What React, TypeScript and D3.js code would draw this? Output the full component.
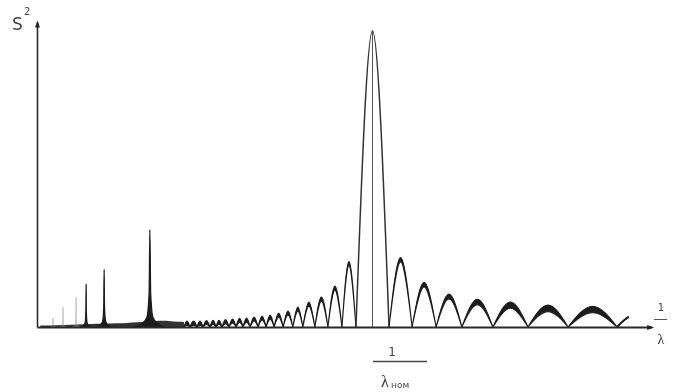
import { useEffect, useRef } from 'react';
import * as d3 from 'd3';

// Spectrum. x is in units of 1/λном (the main peak sits at 1),
// y is relative to the height of the main peak.
const lobeZeros = [
  0.44, 0.458, 0.479, 0.497, 0.518, 0.536, 0.554, 0.575, 0.596, 0.617, 0.638, 0.662, 0.686, 0.71,
  0.737, 0.766, 0.796, 0.832, 0.871, 0.913, 0.955, 1.054, 1.123, 1.195, 1.272, 1.365, 1.47, 1.59,
  1.737,
];
const lobePeaks = [
  0.02, 0.02, 0.02, 0.022, 0.023, 0.023, 0.025, 0.027, 0.029, 0.03, 0.034, 0.037, 0.04, 0.047,
  0.054, 0.067, 0.084, 0.101, 0.138, 0.221, 1.0, 0.235, 0.151, 0.111, 0.094, 0.084, 0.074, 0.07,
];
const mainLobe = 20;

// last half lobe at the right edge
const tailX = [1.737, 1.755, 1.772];
const tailY = [0, 0.02, 0.035];

// narrow higher-order peaks on the left
const spikeX = [0.048, 0.078, 0.117, 0.147, 0.201, 0.338];
const spikeH = [0.03, 0.067, 0.1, 0.144, 0.195, 0.329];
const spikeW = [0.008, 0.01, 0.012, 0.014, 0.022, 0.045];

// dark band along the baseline (unresolved fine lobes)
const floorX = [0.01, 0.08, 0.16, 0.24, 0.3, 0.36, 0.4, 0.44];
const floorH = [0.005, 0.007, 0.01, 0.012, 0.016, 0.022, 0.02, 0.017];

const W = 676;
const H = 392;
const ink = '#1c1c1c';

const x = d3.scaleLinear().domain([0, 1.84]).range([37, 37 + 1.84 * 334]);
const y = d3.scaleLinear().domain([0, 1.03]).range([327, 327 - 1.03 * 296]);

type P = { x: number; y0: number; y1: number };

const areaGen = d3
  .area<P>()
  .x((d) => x(d.x))
  .y0((d) => y(d.y0))
  .y1((d) => y(d.y1))
  .curve(d3.curveNatural);

const lineGen = d3
  .line<[number, number]>()
  .x((d) => x(d[0]))
  .y((d) => y(d[1]))
  .curve(d3.curveNatural);

const floorGen = d3
  .area<P>()
  .x((d) => x(d.x))
  .y0((d) => y(d.y0))
  .y1((d) => y(d.y1))
  .curve(d3.curveBasis);

const spikeOffsets = [-1, -0.5, -0.2, -0.05, 0, 0.05, 0.2, 0.5, 1];
const spikeShape = [0, 0.04, 0.1, 0.35, 1, 0.35, 0.1, 0.04, 0];
const spikeGen = d3
  .area<P>()
  .x((d) => x(d.x))
  .y0((d) => y(d.y0))
  .y1((d) => y(d.y1))
  .curve(d3.curveMonotoneX);

export default function App() {
  const axisRef = useRef<SVGGElement | null>(null);

  useEffect(() => {
    if (!document.body) return;
    document.body.style.margin = '0';
    if (!axisRef.current) return;
    const g = d3.select(axisRef.current);
    g.selectAll('*').remove();

    const xAxis = g
      .append('g')
      .attr('transform', `translate(0,${y(0)})`)
      .call(d3.axisBottom(x).tickValues([]).tickSizeOuter(0));
    xAxis
      .select('.domain')
      .attr('stroke', '#2a2a2a')
      .attr('stroke-width', 1.8)
      .attr('marker-end', 'url(#arrow)');

    const yAxis = g
      .append('g')
      .attr('transform', `translate(${x(0)},0)`)
      .call(d3.axisLeft(y).tickValues([]).tickSizeOuter(0));
    yAxis
      .select('.domain')
      .attr('stroke', '#2a2a2a')
      .attr('stroke-width', 1.6)
      .attr('marker-end', 'url(#arrow)');
  }, []);

  const lobes = lobePeaks.map((h, i) => {
    const z0 = lobeZeros[i];
    const z1 = lobeZeros[i + 1];
    const mid = (z0 + z1) / 2;
    if (i === mainLobe) {
      return (
        <g key={i}>
          <path
            d={lineGen([[z0, 0], [mid, h], [z1, 0]]) ?? ''}
            fill="none"
            stroke="#333"
            strokeWidth={1.5}
          />
          <line x1={x(mid)} x2={x(mid)} y1={y(0)} y2={y(h)} stroke="#555" strokeWidth={1} />
        </g>
      );
    }
    const widthPx = x(z1) - x(z0);
    const hPx = y(0) - y(h);
    const tPx = Math.min(hPx * 0.85, Math.max(4, 1.5 + widthPx * 0.13), 6.5);
    const t = tPx / 296;
    const pts: P[] = [
      { x: z0, y0: 0, y1: 0 },
      { x: mid, y0: h - t, y1: h },
      { x: z1, y0: 0, y1: 0 },
    ];
    return (
      <path key={i} d={areaGen(pts) ?? ''} fill={ink} stroke={ink} strokeWidth={1.1} strokeLinejoin="round" />
    );
  });

  const spikes = spikeX.map((c, i) => {
    const pts: P[] = spikeOffsets.map((k, j) => ({
      x: c + k * spikeW[i],
      y0: 0,
      y1: spikeShape[j] * spikeH[i],
    }));
    const faint = spikeH[i] < 0.12;
    return (
      <path
        key={i}
        d={spikeGen(pts) ?? ''}
        fill={faint ? '#888' : ink}
        stroke={faint ? '#999' : ink}
        strokeWidth={faint ? 0.9 : 1.3}
        opacity={faint ? 0.6 : 1}
      />
    );
  });

  const floorPts: P[] = floorX.map((v, i) => ({ x: v, y0: 0, y1: floorH[i] }));

  return (
    <svg
      width={W}
      height={H}
      viewBox={`0 0 ${W} ${H}`}
      style={{ position: 'absolute', left: 0, top: 0, background: '#fff' }}
      fontFamily="DejaVu Sans, sans-serif"
    >
      <defs>
        <marker
          id="arrow"
          viewBox="0 0 10 10"
          refX={7}
          refY={5}
          markerWidth={10}
          markerHeight={7}
          markerUnits="userSpaceOnUse"
          orient="auto"
        >
          <path d="M0,1.5 L10,5 L0,8.5 Z" fill="#222" />
        </marker>
        <filter id="scan" x="-5%" y="-5%" width="110%" height="110%">
          <feGaussianBlur stdDeviation={0.45} />
        </filter>
      </defs>
      <rect width={W} height={H} fill="#fff" />
      <g filter="url(#scan)">
        <path d={floorGen(floorPts) ?? ''} fill="#333" />
        {lobes}
        <path
          d={lineGen(tailX.map((v, i) => [v, tailY[i]] as [number, number])) ?? ''}
          fill="none"
          stroke={ink}
          strokeWidth={2}
        />
        {spikes}
        <g ref={axisRef} />

        {/* y label */}
        <text x={12} y={30} fontSize={17} fill="#444">
          S
        </text>
        <text x={24} y={15} fontSize={10} fill="#444">
          2
        </text>

        {/* x label 1/λ */}
        <text x={661} y={311} fontSize={10} textAnchor="middle" fill="#444">
          1
        </text>
        <line x1={654} x2={667} y1={319.5} y2={319.5} stroke="#555" strokeWidth={1} />
        <text x={661} y={344} fontSize={14} textAnchor="middle" fill="#333" fontFamily="Liberation Serif, serif">
          λ
        </text>

        {/* 1/λном under the main peak */}
        <text x={392} y={356} fontSize={12} textAnchor="middle" fill="#444">
          1
        </text>
        <line x1={373} x2={427} y1={361.5} y2={361.5} stroke="#444" strokeWidth={1.4} />
        <text x={385} y={387} fontSize={16} textAnchor="middle" fill="#333" fontFamily="Liberation Serif, serif">
          λ
        </text>
        <text x={391} y={388} fontSize={9} fill="#444">
          ном
        </text>
      </g>
    </svg>
  );
}
